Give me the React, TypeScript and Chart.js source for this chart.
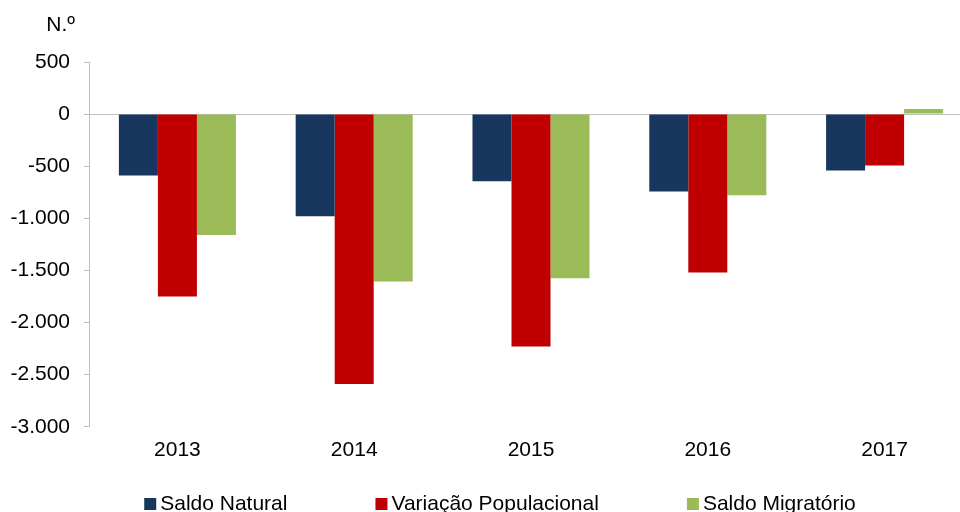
import React, { useEffect, useRef } from "react";
import { Chart, registerables } from "chart.js";

Chart.register(...registerables);

const categories = ["2013", "2014", "2015", "2016", "2017"];
const saldoNatural = [-590, -980, -645, -743, -540];
const variacaoPopulacional = [-1750, -2590, -2230, -1520, -493];
const saldoMigratorio = [-1160, -1606, -1575, -779, 50];
const seriesLabels = ["Saldo Natural", "Variação Populacional", "Saldo Migratório"];
const seriesColors = ["#17375e", "#c00000", "#9bbb59"];
const yMin = -3000;
const yMax = 500;
const yStep = 500;
const unitLabel = "N.º";

const FONT = '"Liberation Sans", Arial, sans-serif';
const AXIS_GRAY = "#bfbfbf";

function fmt(v: number): string {
  const s = Math.abs(v).toString().replace(/\B(?=(\d{3})+(?!\d))/g, ".");
  return (v < 0 ? "-" : "") + s;
}

const unitPlugin = {
  id: "unitLabel",
  afterDraw(chart: any) {
    const { ctx, chartArea } = chart;
    ctx.save();
    ctx.font = `21px ${FONT}`;
    ctx.fillStyle = "#000";
    ctx.textAlign = "right";
    ctx.textBaseline = "middle";
    ctx.fillText(unitLabel, chartArea.left - 14, 25);
    ctx.restore();
  },
};

// Legend drawn on the canvas from the chart's own legend items, with wide gaps
const wideLegendPlugin = {
  id: "wideLegend",
  afterDraw(chart: any) {
    const { ctx } = chart;
    const items = Chart.defaults.plugins.legend.labels.generateLabels(chart);
    const box = 12;
    const textGap = 4;
    const itemGap = 88;
    ctx.save();
    ctx.font = `21px ${FONT}`;
    ctx.textBaseline = "middle";
    ctx.textAlign = "left";
    const widths = items.map((it: any) => box + textGap + ctx.measureText(it.text).width);
    const total = widths.reduce((a: number, b: number) => a + b, 0) + itemGap * (items.length - 1);
    let x = chart.width / 2 - total / 2 - 1;
    const cy = chart.height - 8;
    items.forEach((it: any, i: number) => {
      ctx.fillStyle = it.fillStyle;
      ctx.fillRect(x, cy - box / 2, box, box);
      ctx.fillStyle = "#000";
      ctx.fillText(it.text, x + box + textGap, cy);
      x += widths[i] + itemGap;
    });
    ctx.restore();
  },
};

export default function App() {
  const ref = useRef<HTMLCanvasElement | null>(null);

  useEffect(() => {
    if (!ref.current) return;
    const values = [saldoNatural, variacaoPopulacional, saldoMigratorio];
    const chart = new Chart(ref.current, {
      type: "bar",
      data: {
        labels: categories,
        datasets: values.map((d, i) => ({
          label: seriesLabels[i],
          data: d,
          backgroundColor: seriesColors[i],
          borderWidth: 0,
          barPercentage: 1,
          categoryPercentage: 0.662,
        })),
      },
      options: {
        responsive: false,
        animation: false,
        layout: { padding: { left: 9, right: 29, top: 62, bottom: 38 } },
        plugins: {
          tooltip: { enabled: false },
          title: { display: false },
          legend: { display: false },
        },
        scales: {
          x: {
            grid: { display: false, drawTicks: false },
            border: { display: false },
            ticks: {
              color: "#000",
              font: { family: FONT, size: 21 },
              padding: 11,
            },
          },
          y: {
            min: yMin,
            max: yMax,
            afterFit: (scale: any) => {
              scale.width = 80;
            },
            ticks: {
              stepSize: yStep,
              color: "#000",
              font: { family: FONT, size: 21 },
              padding: 14,
              callback: (v: any) => fmt(Number(v)),
            },
            grid: {
              color: (ctx: any) => (ctx.tick && ctx.tick.value === 0 ? AXIS_GRAY : "rgba(0,0,0,0)"),
              tickColor: AXIS_GRAY,
              tickLength: 5,
              lineWidth: 1,
            },
            border: { display: true, color: AXIS_GRAY, width: 1 },
          },
        },
      },
      plugins: [unitPlugin, wideLegendPlugin],
    });
    return () => chart.destroy();
  }, []);

  return (
    <div
      style={{
        position: "fixed",
        left: 0,
        top: 0,
        width: 960,
        height: 512,
        overflow: "hidden",
        background: "#fff",
      }}
    >
      <canvas ref={ref} width={1002} height={512} style={{ display: "block" }} />
    </div>
  );
}
